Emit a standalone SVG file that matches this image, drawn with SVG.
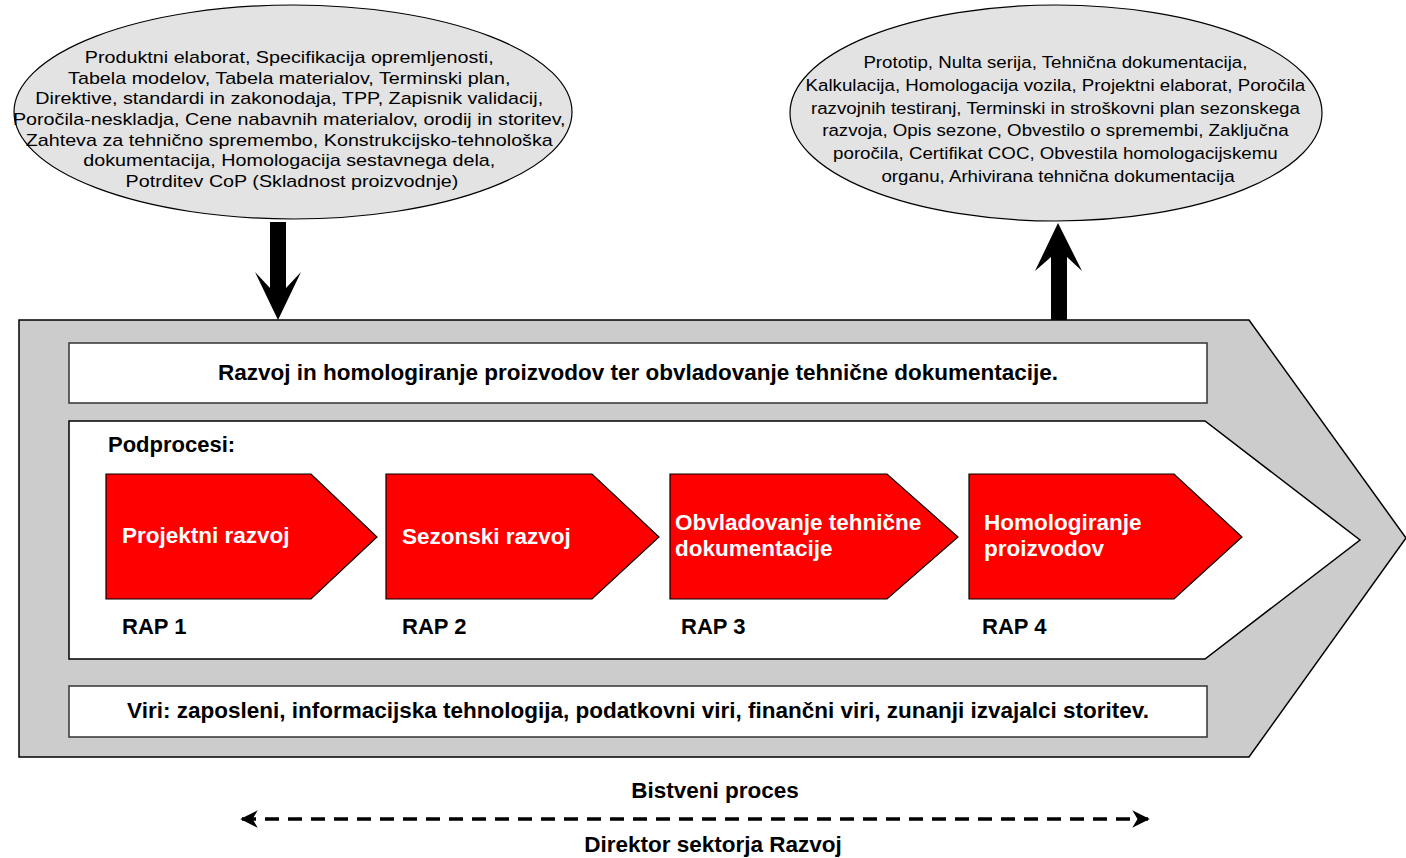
<svg xmlns="http://www.w3.org/2000/svg" width="1406" height="858" viewBox="0 0 1406 858">
<style>
.ell{fill:#e3e3e3;stroke:#000;stroke-width:1.2}
.et{font-family:"Liberation Sans",Arial,sans-serif;font-size:17px;fill:#000;text-anchor:middle}
.bt{font-family:"Liberation Sans",Arial,sans-serif;font-weight:bold;fill:#000}
.wt{font-family:"Liberation Sans",Arial,sans-serif;font-weight:bold;fill:#fff;font-size:22.5px}
.red{fill:#ff0000;stroke:#000;stroke-width:1.2}
.box{fill:#fff;stroke:#333;stroke-width:1.5}
</style>
<defs>
<marker id="ah" viewBox="0 0 10 10" refX="9" refY="5" markerWidth="5" markerHeight="5" orient="auto-start-reverse" markerUnits="strokeWidth">
<path d="M0,0 L10,5 L0,10 L3,5 z" fill="#000"/>
</marker>
</defs>
<rect width="1406" height="858" fill="#fff"/>
<g id="process">
<polygon points="19,320 1249,320 1406,538 1249,757 19,757" fill="#cccccc" stroke="#000" stroke-width="1.5"/>
</g>
<g id="title-box">
<rect x="69" y="343" width="1138" height="60" class="box"/>
<text class="bt" x="638" y="380" font-size="22.5" text-anchor="middle">Razvoj in homologiranje proizvodov ter obvladovanje tehnične dokumentacije.</text>
</g>
<g id="subprocess-area">
<polygon points="69,421 1205,421 1360,540 1205,659 69,659" fill="#fff" stroke="#000" stroke-width="1.5"/>
<text class="bt" x="108" y="452" font-size="22">Podprocesi:</text>
</g>
<g id="rap1">
<polygon class="red" points="106,474 311,474 377,537 311,599 106,599"/>
<text class="wt" x="122" y="543">Projektni razvoj</text>
<text class="bt" x="122" y="634" font-size="22">RAP 1</text>
</g>
<g id="rap2">
<polygon class="red" points="386,474 592,474 659,537 592,599 386,599"/>
<text class="wt" x="402" y="544">Sezonski razvoj</text>
<text class="bt" x="402" y="634" font-size="22">RAP 2</text>
</g>
<g id="rap3">
<polygon class="red" points="670,474 887,474 958,537 887,599 670,599"/>
<text class="wt" x="675" y="530">Obvladovanje tehnične</text>
<text class="wt" x="675" y="556">dokumentacije</text>
<text class="bt" x="681" y="634" font-size="22">RAP 3</text>
</g>
<g id="rap4">
<polygon class="red" points="969,474 1174,474 1242,537 1174,599 969,599"/>
<text class="wt" x="984" y="530">Homologiranje</text>
<text class="wt" x="984" y="556">proizvodov</text>
<text class="bt" x="982" y="634" font-size="22">RAP 4</text>
</g>
<g id="resources-box">
<rect x="69" y="686" width="1138" height="51" class="box"/>
<text class="bt" x="638" y="718" font-size="22.5" text-anchor="middle">Viri: zaposleni, informacijska tehnologija, podatkovni viri, finančni viri, zunanji izvajalci storitev.</text>
</g>
<g id="inputs">
<ellipse class="ell" cx="293" cy="112" rx="279" ry="107"/>
<text class="et" transform="translate(292,0) scale(1.16,1) translate(-292,0)">
<tspan x="292" y="63">Produktni elaborat, Specifikacija opremljenosti,</tspan>
<tspan x="292" y="84">Tabela modelov, Tabela materialov, Terminski plan,</tspan>
<tspan x="292" y="104">Direktive, standardi in zakonodaja, TPP, Zapisnik validacij,</tspan>
<tspan x="292" y="125">Poročila-neskladja, Cene nabavnih materialov, orodij in storitev,</tspan>
<tspan x="292" y="146">Zahteva za tehnično spremembo, Konstrukcijsko-tehnološka</tspan>
<tspan x="292" y="166">dokumentacija, Homologacija sestavnega dela,</tspan>
<tspan x="292" y="187">Potrditev CoP (Skladnost proizvodnje)</tspan>
</text>
</g>
<g id="outputs">
<ellipse class="ell" cx="1056" cy="113" rx="266" ry="108"/>
<text class="et" font-size="17.5" transform="translate(1058,0) scale(1.1,1) translate(-1058,0)">
<tspan x="1058" y="68">Prototip, Nulta serija, Tehnična dokumentacija,</tspan>
<tspan x="1058" y="91">Kalkulacija, Homologacija vozila, Projektni elaborat, Poročila</tspan>
<tspan x="1058" y="114">razvojnih testiranj, Terminski in stroškovni plan sezonskega</tspan>
<tspan x="1058" y="136">razvoja, Opis sezone, Obvestilo o spremembi, Zaključna</tspan>
<tspan x="1058" y="159">poročila, Certifikat COC, Obvestila homologacijskemu</tspan>
<tspan x="1058" y="182">organu, Arhivirana tehnična dokumentacija</tspan>
</text>
</g>
<g id="connectors">
<polygon points="270,222 286,222 286,288 301,272 278,320 255,272 270,288" fill="#000"/>
<polygon points="1058,223 1082,271 1067,257 1067,320 1051,320 1051,257 1035,271" fill="#000"/>
<line x1="242" y1="819" x2="1148" y2="819" stroke="#000" stroke-width="3.5" stroke-dasharray="14,9" marker-start="url(#ah)" marker-end="url(#ah)"/>
</g>
<g id="footer">
<text class="bt" x="715" y="798" font-size="22.5" text-anchor="middle">Bistveni proces</text>
<text class="bt" x="713" y="852" font-size="22.5" text-anchor="middle">Direktor sektorja Razvoj</text>
</g>
</svg>
